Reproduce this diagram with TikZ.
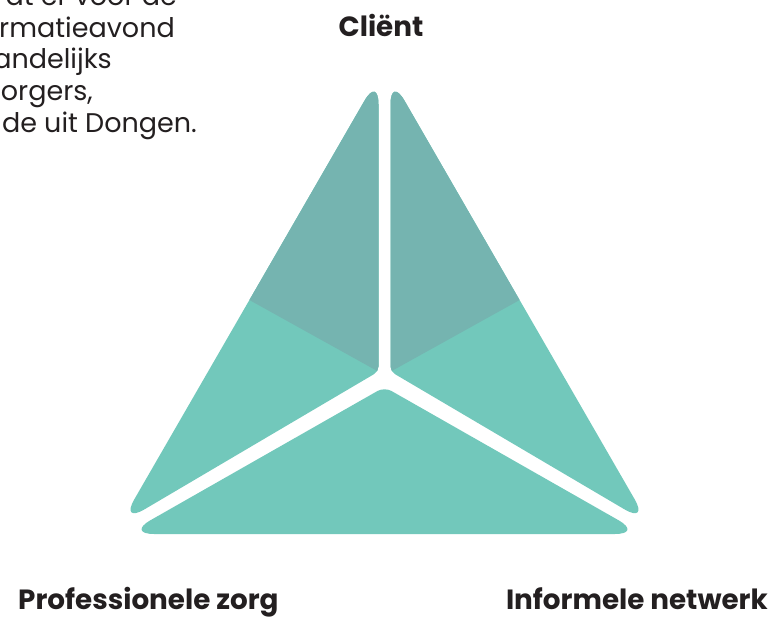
\documentclass[tikz,border=0pt]{standalone}
\usepackage{fontspec}
\setmainfont{Poppins}
\usetikzlibrary{calc}
\definecolor{tealdark}{RGB}{117,180,176}
\definecolor{teallight}{RGB}{114,200,187}
\definecolor{ink}{RGB}{35,31,32}
\tikzset{
  bodytext/.style={inner sep=0pt, text=ink, font=\fontsize{27}{32}\selectfont},
  labeltext/.style={inner sep=0pt, text=ink, font=\bfseries\fontsize{27.8}{32}\selectfont},
}
\begin{document}
\begin{tikzpicture}[x=1pt,y=-1pt]
\useasboundingbox (0,0) rectangle (776,616);
\clip (0,0) rectangle (776,616);

% outer triangle and centre of the split
\coordinate (A) at (384.5,66);
\coordinate (B) at (114.3,534);
\coordinate (C) at (654.7,534);
\coordinate (O) at (384.5,375);
\coordinate (MAB) at ($(A)!0.5!(B)$);
\coordinate (MAC) at ($(A)!0.5!(C)$);

% corners of the three pieces (gap width 12)
\coordinate (P1) at (378.5,76.4);
\coordinate (P2) at (120.3,523.6);
\coordinate (P3) at (378.5,371.5);
\coordinate (Q1) at (390.5,76.4);
\coordinate (Q2) at (648.7,523.6);
\coordinate (Q3) at (390.5,371.5);
\coordinate (R1) at (384.5,387);
\coordinate (R2) at (126.3,534);
\coordinate (R3) at (642.7,534);

% left piece
\begin{scope}
  \clip ($(P1)!0.5!(P2)$) [rounded corners=28pt] -- (P2) [rounded corners=5pt] -- (P3) [rounded corners=28pt] -- (P1) -- cycle;
  \fill[teallight] (0,0) rectangle (776,616);
  \fill[tealdark] (MAB) -- (O) -- (MAC) -- (776,0) -- (0,0) -- cycle;
\end{scope}

% right piece
\begin{scope}
  \clip ($(Q1)!0.5!(Q2)$) [rounded corners=28pt] -- (Q2) [rounded corners=5pt] -- (Q3) [rounded corners=28pt] -- (Q1) -- cycle;
  \fill[teallight] (0,0) rectangle (776,616);
  \fill[tealdark] (MAB) -- (O) -- (MAC) -- (776,0) -- (0,0) -- cycle;
\end{scope}

% bottom piece
\fill[teallight] ($(R2)!0.5!(R3)$) [rounded corners=28pt] -- (R3) [rounded corners=8pt] -- (R1) [rounded corners=28pt] -- (R2) -- cycle;

% labels
\node[labeltext, anchor=base] (client) at (381,36) {Cliënt};
\node[labeltext, anchor=base west] (prof) at (18,609) {Professionele zorg};
\node[labeltext, anchor=base east] (infnet) at (768,609) {Informele netwerk};

% paragraph running in from the left
\node[bodytext, anchor=base east] (line1) at (177,5) {dt er voor de};
\node[bodytext, anchor=base east] (line2) at (175,37) {rmatieavond};
\node[bodytext, anchor=base east] (line3) at (112,68) {andelijks};
\node[bodytext, anchor=base east] (line4) at (93,100) {orgers,};
\node[bodytext, anchor=base east] (line5) at (197,132) {de uit Dongen.};
\end{tikzpicture}
\end{document}
